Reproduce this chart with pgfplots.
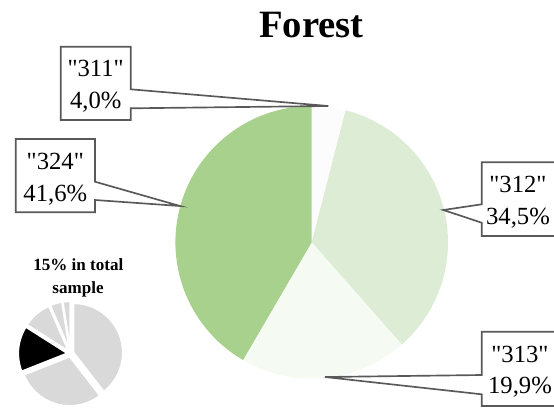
\documentclass[border=0pt]{standalone}
\usepackage{fontspec}
\setmainfont{Liberation Serif}
\usepackage{pgfplots}
\pgfplotsset{compat=1.18}

\definecolor{c311}{HTML}{FCFCFC}
\definecolor{c312}{HTML}{DDECD4}
\definecolor{c313}{HTML}{F5FAF2}
\definecolor{c324}{HTML}{A9D18E}
\definecolor{pale}{HTML}{D9D9D9}
\definecolor{lc}{HTML}{595959}

\newcommand\q[1]{\textquotedbl#1\textquotedbl}

% running total of the shares already drawn, in percent
\def\cum{0}
% one wedge: centre x, centre y, radius, explode offset, share (%), style
\newcommand\pieslice[6]{%
  \pgfmathsetmacro\wa{90-3.6*\cum}%
  \pgfmathsetmacro\wb{90-3.6*(\cum+#5)}%
  \pgfmathsetmacro\wm{(\wa+\wb)/2}%
  \pgfmathsetmacro\wx{#1+#4*cos(\wm)}%
  \pgfmathsetmacro\wy{#2-#4*sin(\wm)}%
  \edef\doslice{\noexpand\addplot[#6, domain=\wb:\wa, samples=90]
    ({\wx+#3*cos(x)},{\wy-#3*sin(x)}) -- (axis cs:\wx,\wy) -- cycle;}%
  \doslice
  \pgfmathsetmacro\cumnew{\cum+#5}%
  \xdef\cum{\cumnew}%
}

\begin{document}
\begin{tikzpicture}
\begin{axis}[
  at={(0,0)}, anchor=south west,
  width=415.5pt, height=306pt, scale only axis,
  xmin=0, xmax=554, ymin=0, ymax=408, y dir=reverse,
  hide axis, clip=false]

% Forest: land-cover classes 311, 312, 313, 324
\gdef\cum{0}
\pieslice{311.7}{242.3}{136.3}{0}{4.0}{fill=c311, draw=none}
\pieslice{311.7}{242.3}{136.3}{0}{34.5}{fill=c312, draw=none}
\pieslice{311.7}{242.3}{136.3}{0}{19.9}{fill=c313, draw=none}
\pieslice{311.7}{242.3}{136.3}{0}{41.6}{fill=c324, draw=none}

% share of forest within the whole sample
\gdef\cum{0}
\pieslice{70.6}{353.6}{49.5}{3}{39.5}{fill=pale, draw=white, line width=1.5pt}
\pieslice{70.6}{353.6}{49.5}{3}{29.5}{fill=pale, draw=white, line width=1.5pt}
\pieslice{70.6}{353.6}{49.5}{3}{15.0}{fill=black, draw=white, line width=1.5pt}
\pieslice{70.6}{353.6}{49.5}{3}{9.5}{fill=pale, draw=white, line width=1.5pt}
\pieslice{70.6}{353.6}{49.5}{3}{4.0}{fill=pale, draw=white, line width=1.5pt}
\pieslice{70.6}{353.6}{49.5}{3}{2.5}{fill=pale, draw=white, line width=1.5pt}

% callouts
\begin{scope}[fill=white, draw=lc, line width=1.25pt, line join=miter]
\filldraw (60.7,46.7) -- (130.7,46.7) -- (130.7,89.3) -- (328.3,106)
  -- (130.7,108.3) -- (130.7,120) -- (60.7,120) -- cycle;
\filldraw (15.7,139) -- (95,139) -- (95,181.7) -- (180,206)
  -- (95,200) -- (95,212.3) -- (15.7,212.3) -- cycle;
\filldraw (481.7,162.3) -- (575,162.3) -- (575,236) -- (481.7,236)
  -- (481.7,222.7) -- (443.3,210) -- (481.7,204.3) -- cycle;
\filldraw (481.7,331.7) -- (575,331.7) -- (575,406) -- (481.7,406)
  -- (481.7,394.3) -- (325,377) -- (481.7,375) -- cycle;
\end{scope}

\begin{scope}[every node/.style={anchor=base, inner sep=0pt,
    font=\fontsize{18.5}{20}\selectfont}]
\node at (axis cs:95.7,76.7) {\q{311}};
\node at (axis cs:95.7,108.3) {4,0\%};
\node at (axis cs:55.3,169.3) {\q{324}};
\node at (axis cs:55.3,201) {41,6\%};
\node at (axis cs:518,192.5) {\q{312}};
\node at (axis cs:518,224) {34,5\%};
\node at (axis cs:520,362) {\q{313}};
\node at (axis cs:520,393.5) {19,9\%};
\end{scope}

\node[anchor=base, inner sep=0pt, font=\fontsize{29}{31}\selectfont\bfseries]
  at (axis cs:311.3,37.3) {Forest};
\node[anchor=base, inner sep=0pt, font=\fontsize{12.8}{14}\selectfont\bfseries]
  at (axis cs:78.3,270.7) {15\% in total};
\node[anchor=base, inner sep=0pt, font=\fontsize{12.8}{14}\selectfont\bfseries]
  at (axis cs:78,293.3) {sample};
\end{axis}
\pgfresetboundingbox
\useasboundingbox (0,0) rectangle (415.5pt,306pt);
\end{tikzpicture}
\end{document}
